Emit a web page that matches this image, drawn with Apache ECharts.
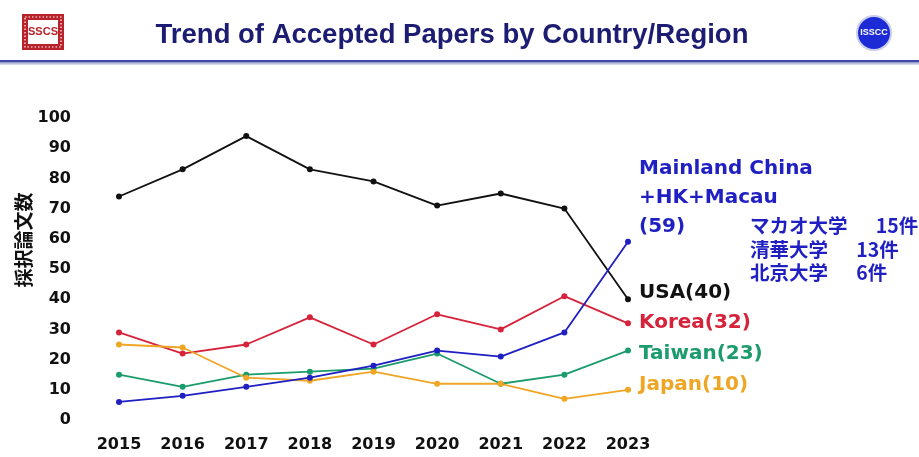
<!DOCTYPE html>
<html><head><meta charset="utf-8">
<script src="https://cdn.jsdelivr.net/npm/echarts@6/dist/echarts.min.js"></script>
<style>html,body{margin:0;padding:0;background:#fff}#c{width:919px;height:457px}</style>
</head><body><div id="c"></div>
<script>
const years = ['2015','2016','2017','2018','2019','2020','2021','2022','2023'];
const usa = [74, 83, 94, 83, 79, 71, 75, 70, 40];
const korea = [29, 22, 25, 34, 25, 35, 30, 41, 32];
const taiwan = [15, 11, 15, 16, 17, 22, 12, 15, 23];
const japan = [25, 24, 14, 13, 16, 12, 12, 7, 10];
const china = [6, 8, 11, 14, 18, 23, 21, 29, 59];
const yTicks = [0, 10, 20, 30, 40, 50, 60, 70, 80, 90, 100];
const uniLines = ['マカオ大学\u3000  15件', '清華大学\u3000  13件', '北京大学\u3000  6件'];

const FONT = '"DejaVu Sans", sans-serif';
const TFONT = '"Liberation Sans", Arial, sans-serif';
const CJK = '"Noto Sans CJK JP", sans-serif';
const chart = echarts.init(document.getElementById('c'));

function mk(name, data, color, labelText, offset) {
  return {
    name, type: 'line', data,
    symbol: 'circle', symbolSize: 6,
    lineStyle: { color, width: 1.8 },
    itemStyle: { color },
    emphasis: { disabled: true },
    endLabel: {
      show: true, formatter: labelText, color, fontFamily: FONT,
      fontWeight: 'bold', fontSize: 20, distance: 11, offset: offset,
      lineHeight: 29
    },
    z: 3
  };
}

chart.setOption({
  animation: false,
  backgroundColor: '#fff',
  grid: { left: 119, right: 291, top: 118, bottom: 37, containLabel: false },
  xAxis: {
    type: 'category', data: years, boundaryGap: false,
    axisLine: { show: false }, axisTick: { show: false }, splitLine: { show: false },
    axisLabel: { color: '#111', fontFamily: FONT, fontWeight: 'bold', fontSize: 16, margin: 17 }
  },
  yAxis: {
    type: 'value', min: yTicks[0], max: yTicks[yTicks.length - 1], interval: 10,
    axisLine: { show: false }, axisTick: { show: false }, splitLine: { show: false },
    axisLabel: { color: '#111', fontFamily: FONT, fontWeight: 'bold', fontSize: 16, margin: 48 }
  },
  series: [
    mk('USA', usa, '#111111', p => 'USA(' + p.value + ')', [0, -6]),
    mk('Korea', korea, '#d6223a', p => 'Korea(' + p.value + ')', [0, -1]),
    mk('Taiwan', taiwan, '#1c9c6c', p => 'Taiwan(' + p.value + ')', [0, 3]),
    mk('Japan', japan, '#efa624', p => 'Japan(' + p.value + ')', [0, -5]),
    mk('China', china, '#1f1fc2', p => 'Mainland China\n+HK+Macau\n(' + p.value + ')', [0, -44])
  ],
  graphic: [
    { type: 'rect', left: 0, top: 60, shape: { width: 919, height: 2 },
      style: { fill: '#3a4aa6' } },
    { type: 'rect', left: 0, top: 62, shape: { width: 919, height: 3 },
      style: { fill: new echarts.graphic.LinearGradient(0, 0, 0, 1, [
        { offset: 0, color: '#8a94c4' }, { offset: 1, color: '#e4e7f2' }]) } },
    { type: 'text', x: 452, y: 35,
      style: { text: 'Trend of Accepted Papers by Country/Region', fill: '#1b1c72',
        font: 'bold 27.5px ' + TFONT, align: 'center', verticalAlign: 'middle' } },
    { type: 'rect', shape: { x: 22, y: 14, width: 42, height: 36 },
      style: { fill: '#b8222a' } },
    { type: 'rect', shape: { x: 25, y: 17, width: 36, height: 30 },
      style: { fill: 'none', stroke: '#fff', lineWidth: 1.2, lineDash: [1.5, 2] } },
    { type: 'rect', shape: { x: 28, y: 20, width: 30, height: 24 },
      style: { fill: '#fff' } },
    { type: 'text', x: 43, y: 32,
      style: { text: 'SSCS', fill: '#b8222a', font: 'bold 11px ' + TFONT, align: 'center', verticalAlign: 'middle' } },
    { type: 'circle', shape: { cx: 874, cy: 33, r: 17 },
      style: { fill: '#1d2bd6', stroke: '#c9cdee', lineWidth: 2 } },
    { type: 'text', x: 874, y: 33,
      style: { text: 'ISSCC', fill: '#fff', font: 'bold 9px ' + TFONT, align: 'center', verticalAlign: 'middle' } },
    { type: 'text', x: 24, y: 240, rotation: Math.PI / 2,
      style: { text: '採択論文数', fill: '#111', font: 'bold 19px ' + CJK, align: 'center', verticalAlign: 'middle' } },
    { type: 'text', left: 750, top: 214,
      style: { text: uniLines.join('\n'), fill: '#1f1fc2', lineHeight: 23.5,
        font: 'bold 19.5px ' + CJK } }
  ]
});
</script></body></html>
